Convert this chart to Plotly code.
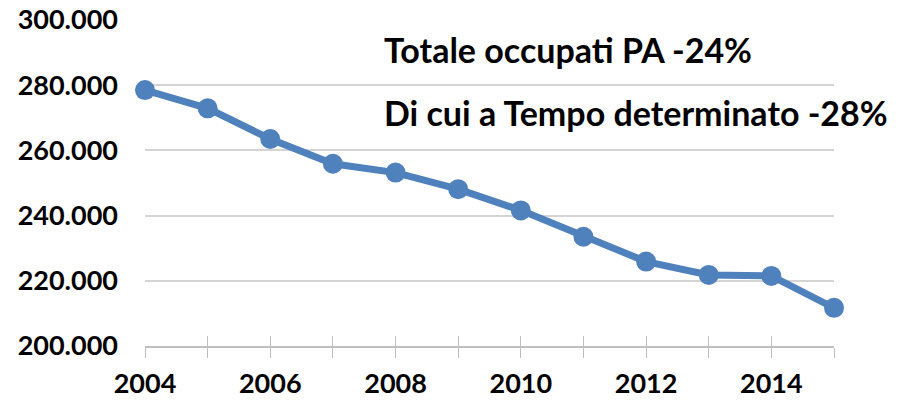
import plotly.graph_objects as go

years = [2004, 2005, 2006, 2007, 2008, 2009, 2010, 2011, 2012, 2013, 2014, 2015]
occupati = [278500, 272900, 263500, 255900, 253200, 248100, 241600, 233500, 225900, 221800, 221500, 211700]
x_tick_labels = ["2004", "", "2006", "", "2008", "", "2010", "", "2012", "", "2014", ""]
y_ticks = [200000, 220000, 240000, 260000, 280000, 300000]
notes = ["Totale occupati PA -24%", "Di cui a Tempo determinato -28%"]

FONT = "Lato"
BLUE = "#4f81bd"
GRID = "#d4d4d4"
AXIS = "#bfbfbf"

fig = go.Figure()
fig.add_trace(go.Scatter(
    x=years, y=occupati, mode="lines+markers",
    line=dict(color=BLUE, width=7),
    marker=dict(color=BLUE, size=20),
    showlegend=False, hoverinfo="x+y", cliponaxis=False,
))
# overlay trace for inside ticks (cross ticks)
fig.add_trace(go.Scatter(x=years, y=occupati, xaxis="x2", mode="none",
                         showlegend=False, hoverinfo="skip"))

fig.update_layout(
    width=902, height=401,
    margin=dict(l=145, r=68, t=20, b=55),
    paper_bgcolor="white", plot_bgcolor="white",
    separators=",.",
    font=dict(family=FONT, color="black"),
    xaxis=dict(
        range=[2004, 2015], tickmode="array", tickvals=years, ticktext=x_tick_labels,
        ticks="outside", ticklen=10, tickcolor=AXIS, tickwidth=1,
        showline=True, linecolor=AXIS, linewidth=1.5, showgrid=False, zeroline=False,
        automargin=False, ticklabelstandoff=3,
        tickfont=dict(family=FONT, size=27, color="black", weight="bold"),
    ),
    xaxis2=dict(
        range=[2004, 2015], overlaying="x", anchor="y", side="bottom",
        tickmode="array", tickvals=years, ticktext=[""] * len(years),
        ticks="inside", ticklen=10, tickcolor=AXIS, tickwidth=1,
        showline=False, showgrid=False, zeroline=False, showticklabels=False,
        automargin=False,
    ),
    yaxis=dict(
        range=[200000, 300000], tickmode="array", tickvals=y_ticks, tickformat=",d",
        showgrid=True, gridcolor=GRID, gridwidth=1.5, zeroline=False, showline=False,
        ticks="", ticklabelstandoff=26, automargin=False,
        tickfont=dict(family=FONT, size=27, color="black", weight="bold"),
    ),
)

fig.add_annotation(x=2007.79, y=290800, xref="x", yref="y", text=notes[0],
                   showarrow=False, xanchor="left", yanchor="middle",
                   font=dict(family=FONT, size=34, color="black", weight="bold"))
fig.add_annotation(x=2007.79, y=271600, xref="x", yref="y", text=notes[1],
                   showarrow=False, xanchor="left", yanchor="middle",
                   font=dict(family=FONT, size=34, color="black", weight="bold"))

fig.write_html("out.html", config={"displayModeBar": False},
               post_script="document.body.style.margin='0';document.body.style.overflow='hidden';")
